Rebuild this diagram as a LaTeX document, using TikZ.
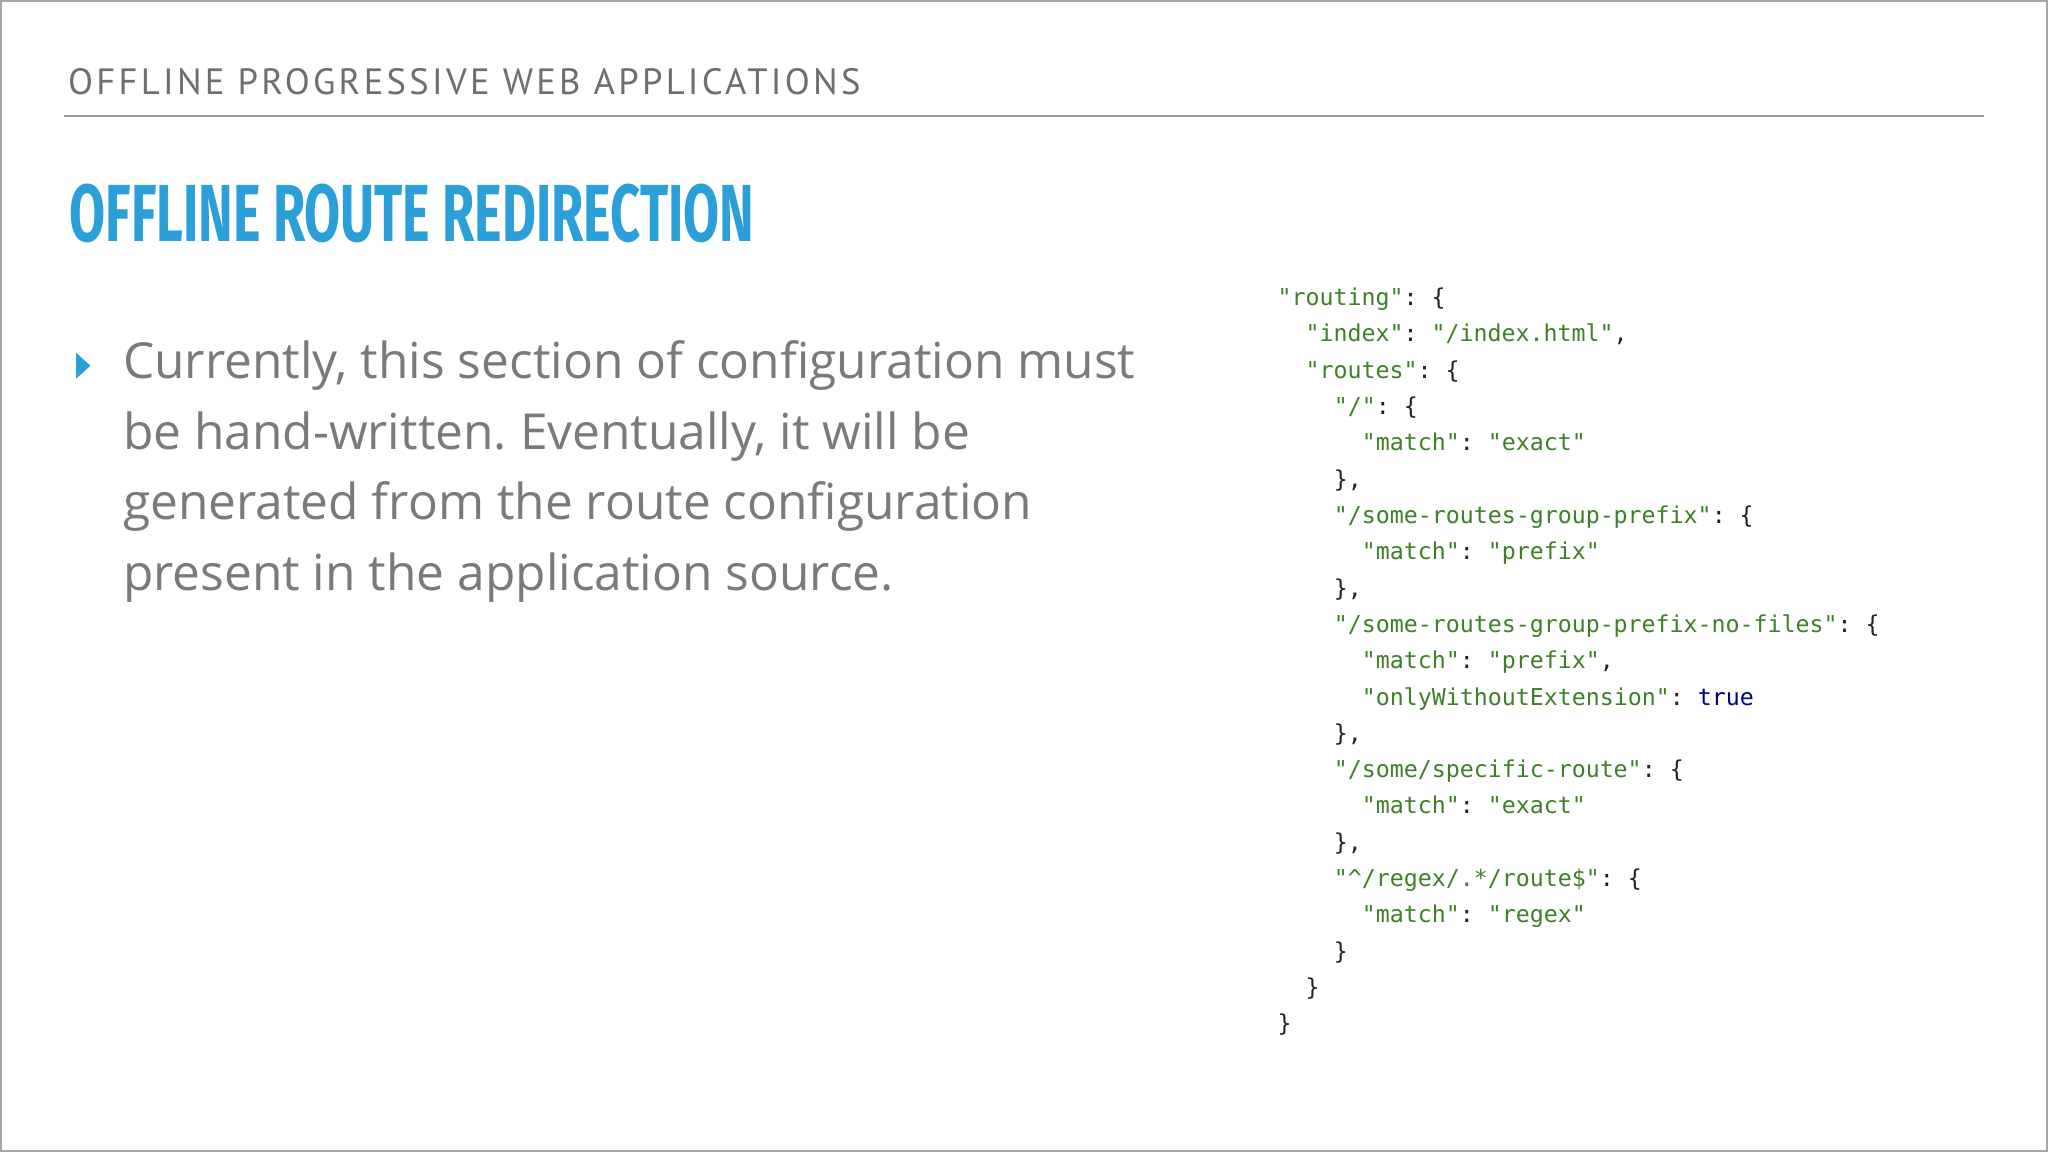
\documentclass[tikz,border=0pt]{standalone}
\usepackage{fontspec}
\setmainfont{Open Sans}
\setmonofont{DejaVu Sans Mono}
\newfontfamily\hdfont[LetterSpace=9]{PT Sans}
\newfontfamily\ttlfont{Fira Sans}
\definecolor{hdgray}{HTML}{6E6E6E}
\definecolor{ttlblue}{HTML}{2A9FD8}
\definecolor{bodygray}{HTML}{7A7A7A}
\definecolor{strgreen}{HTML}{3F7F2A}
\definecolor{kwblue}{HTML}{000080}
\definecolor{punc}{HTML}{222222}
\newcommand{\sg}[1]{\textcolor{strgreen}{#1}}
\frenchspacing
\begin{document}
\begin{tikzpicture}[x=1pt,y=-1pt,
  codeline/.style={anchor=base west,inner sep=0pt,font=\fontsize{17.8}{20}\ttfamily,text=punc},
  bodyline/.style={anchor=base west,inner sep=0pt,font=\fontsize{38}{40}\selectfont,text=bodygray}]
\useasboundingbox[fill=white] (0,0) rectangle (1568,882);
\draw[black!35,line width=1.5pt] (0.75,0.75) rectangle (1567.25,881.25);
\node[anchor=base west,inner sep=0pt,text=hdgray,font=\hdfont\fontsize{28}{30}\selectfont] (hd) at (52,72) {OFFLINE PROGRESSIVE WEB APPLICATIONS};
\draw[hdgray!70,line width=1.5pt] (49,89) -- (1519,89);
\node[anchor=base west,inner sep=0pt,text=ttlblue,font=\ttlfont\bfseries\fontsize{62}{70}\selectfont] (ttl) at (53,185) {\scalebox{0.645}[1]{OFFLINE ROUTE REDIRECTION}};
\node[anchor=base west,inner sep=0pt,text=ttlblue,font=\fontsize{22}{24}\selectfont] (bul) at (58,290) {\tikz[x=1pt,y=1pt]\fill (0,0) -- (0,20) -- (11,10) -- cycle;};
\node[bodyline] (b1) at (94,290) {Currently, this section of configuration must};
\node[bodyline] (b2) at (94,344) {be hand-written. Eventually, it will be};
\node[bodyline] (b3) at (94,398) {generated from the route configuration};
\node[bodyline] (b4) at (94,452) {present in the application source.};
\def\cw{10.75}
\def\lh{27.8}
\node[codeline] (c1) at (978,234+0*\lh) {\sg{"routing"}: \{};
\node[codeline] (c2) at (978+2*\cw,234+1*\lh) {\sg{"index"}: \sg{"/index.html"},};
\node[codeline] (c3) at (978+2*\cw,234+2*\lh) {\sg{"routes"}: \{};
\node[codeline] (c4) at (978+4*\cw,234+3*\lh) {\sg{"/"}: \{};
\node[codeline] (c5) at (978+6*\cw,234+4*\lh) {\sg{"match"}: \sg{"exact"}};
\node[codeline] (c6) at (978+4*\cw,234+5*\lh) {\},};
\node[codeline] (c7) at (978+4*\cw,234+6*\lh) {\sg{"/some-routes-group-prefix"}: \{};
\node[codeline] (c8) at (978+6*\cw,234+7*\lh) {\sg{"match"}: \sg{"prefix"}};
\node[codeline] (c9) at (978+4*\cw,234+8*\lh) {\},};
\node[codeline] (c10) at (978+4*\cw,234+9*\lh) {\sg{"/some-routes-group-prefix-no-files"}: \{};
\node[codeline] (c11) at (978+6*\cw,234+10*\lh) {\sg{"match"}: \sg{"prefix"},};
\node[codeline] (c12) at (978+6*\cw,234+11*\lh) {\sg{"onlyWithoutExtension"}: \textcolor{kwblue}{true}};
\node[codeline] (c13) at (978+4*\cw,234+12*\lh) {\},};
\node[codeline] (c14) at (978+4*\cw,234+13*\lh) {\sg{"/some/specific-route"}: \{};
\node[codeline] (c15) at (978+6*\cw,234+14*\lh) {\sg{"match"}: \sg{"exact"}};
\node[codeline] (c16) at (978+4*\cw,234+15*\lh) {\},};
\node[codeline] (c17) at (978+4*\cw,234+16*\lh) {\sg{"\textasciicircum/regex/.*/route\$"}: \{};
\node[codeline] (c18) at (978+6*\cw,234+17*\lh) {\sg{"match"}: \sg{"regex"}};
\node[codeline] (c19) at (978+4*\cw,234+18*\lh) {\}};
\node[codeline] (c20) at (978+2*\cw,234+19*\lh) {\}};
\node[codeline] (c21) at (978,234+20*\lh) {\}};
\end{tikzpicture}
\end{document}
